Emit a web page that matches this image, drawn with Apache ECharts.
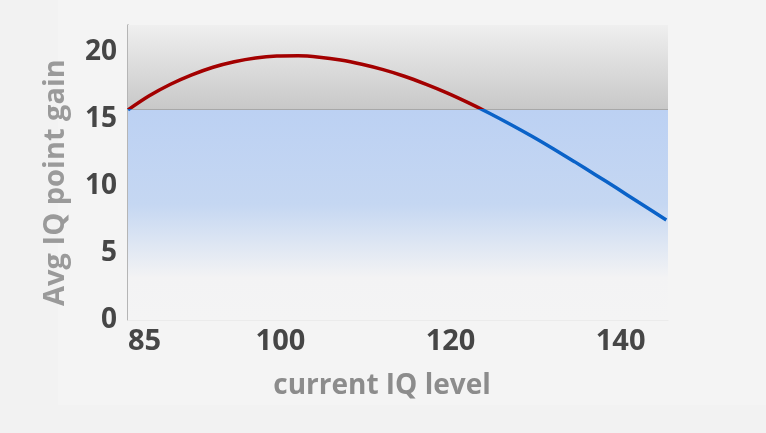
<!DOCTYPE html>
<html><head><meta charset="utf-8">
<script src="https://cdn.jsdelivr.net/npm/echarts@6/dist/echarts.min.js"></script>
<style>html,body{margin:0;padding:0;background:#f2f2f2;}#c{width:766px;height:433px;}</style>
</head><body><div id="c"></div>
<script>
const iqLevel = [85, 87.5, 90, 92.5, 95, 97.5, 100, 102.5, 105, 107.5, 110, 112.5, 115, 117.5, 120, 122.5, 125, 127.5, 130, 132.5, 135, 137.5, 140, 142.5, 145, 148.3];
const iqGain  = [15.67, 16.72, 17.58, 18.28, 18.85, 19.26, 19.54, 19.68, 19.70, 19.60, 19.39, 19.07, 18.67, 18.18, 17.59, 16.94, 16.21, 15.42, 14.58, 13.70, 12.77, 11.81, 10.82, 9.82, 8.80, 7.46];
const xTicks = [85, 100, 120, 140];
const yTicks = [0, 5, 10, 15, 20];
const threshold = 15.7;
const xName = 'current IQ level';
const yName = 'Avg IQ point gain';

const RED = '#a30000', BLUE = '#0a62c8';
const chart = echarts.init(document.getElementById('c'), null, {renderer: 'canvas'});
const font = '"Open Sans", "Noto Sans", sans-serif';
chart.setOption({
  backgroundColor: '#f2f2f2',
  animation: false,
  graphic: [{type: 'rect', shape: {x: 58, y: 0, width: 708, height: 405}, style: {fill: '#f4f4f4'}, z: -10, silent: true}],
  grid: {left: 128, right: 98, top: 25, bottom: 113, containLabel: false},
  xAxis: {
    type: 'value', min: 85, max: 148.5,
    name: xName, nameLocation: 'middle', nameGap: 52,
    nameTextStyle: {fontFamily: font, fontWeight: 'bold', fontSize: 28, color: '#8c8c8c', padding: [0, 32, 0, 0]},
    axisLine: {show: true, lineStyle: {color: '#ebebeb', width: 1}},
    axisTick: {show: false},
    splitLine: {show: false},
    axisLabel: {customValues: xTicks, align: 'left', margin: 7, fontFamily: font, fontWeight: 'bold', fontSize: 29, color: '#464646'}
  },
  yAxis: {
    type: 'value', min: 0, max: 22,
    name: yName, nameLocation: 'middle', nameGap: 58, nameRotate: 90,
    nameTextStyle: {fontFamily: font, fontWeight: 'bold', fontSize: 29, color: '#9a9a9a', padding: [0, 20, 0, 0]},
    axisLine: {show: true, lineStyle: {color: '#a0a0a0', width: 1.5}},
    axisTick: {show: false},
    splitLine: {show: false},
    axisLabel: {customValues: yTicks, margin: 11, fontFamily: font, fontWeight: 'bold', fontSize: 28, color: '#464646'}
  },
  series: [
    {
      type: 'line', smooth: 0.3, symbol: 'none', z: 5,
      lineStyle: {width: 3.5, color: RED},
      data: iqLevel.map((x, i) => [x, iqGain[i]]),
      markArea: {
        silent: true,
        data: [
          [{yAxis: threshold, itemStyle: {color: {type: 'linear', x: 0, y: 0, x2: 0, y2: 1, colorStops: [
            {offset: 0, color: '#efefef'}, {offset: 1, color: '#c8c8c8'}]}}}, {yAxis: 22}],
          [{yAxis: 0, itemStyle: {color: {type: 'linear', x: 0, y: 0, x2: 0, y2: 1, colorStops: [
            {offset: 0, color: '#bcd1f3'}, {offset: 0.45, color: '#c5d7f2'}, {offset: 0.8, color: '#f3f3f4'}, {offset: 1, color: '#f4f4f4'}]}}}, {yAxis: threshold}]
        ]
      },
      markLine: {
        silent: true, symbol: 'none', label: {show: false},
        lineStyle: {color: '#a8a8a8', width: 1, type: 'solid'},
        data: [{yAxis: threshold}]
      }
    }
  ]
});
// colour the curve red above the threshold and blue below it
const thrPx = chart.convertToPixel({xAxisIndex: 0, yAxisIndex: 0}, [85, threshold])[1];
const H = chart.getHeight();
const f = thrPx / H;
chart.setOption({series: [{lineStyle: {color: {type: 'linear', x: 0, y: 0, x2: 0, y2: H, global: true, colorStops: [
  {offset: 0, color: RED}, {offset: f, color: RED}, {offset: f, color: BLUE}, {offset: 1, color: BLUE}]}}}]});
</script></body></html>
